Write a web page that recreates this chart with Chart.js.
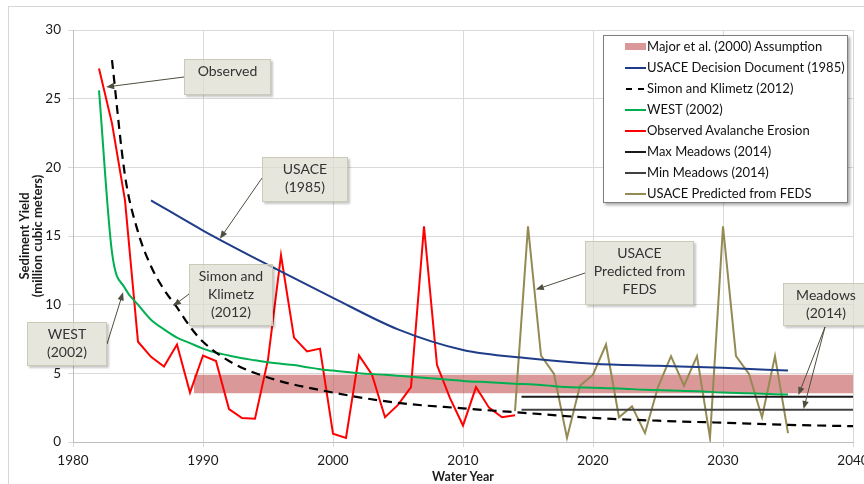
<!DOCTYPE html>
<html>
<head>
<meta charset="utf-8">
<script src="https://cdn.jsdelivr.net/npm/chart.js@4"></script>
<style>
  body { margin: 0; background: #fff; overflow: hidden; }
  #wrap { position: relative; width: 864px; height: 484px; overflow: hidden; font-family: Lato, "Noto Sans", sans-serif; }
  #myChart { position: absolute; left: 0; top: 0; }
  .callout {
    position: absolute; box-sizing: border-box;
    background: rgba(222, 220, 206, 0.72); border: 1px solid #cbc9b8;
    box-shadow: 2px 2px 2px rgba(0, 0, 0, 0.22);
    color: #333; font-size: 14px; line-height: 18px; text-align: center;
    padding-top: 2px;
  }
  #legend {
    position: absolute; left: 603px; top: 35px; width: 245px; height: 168px; box-sizing: border-box;
    background: #fff; border: 1px solid #7f7f7f; box-shadow: 2px 2px 3px rgba(0, 0, 0, 0.35);
    font-size: 13px; color: #111; padding-top: 0;
  }
  .row { position: relative; height: 21px; line-height: 21px; padding-left: 43px; white-space: nowrap; }
  .sample { position: absolute; left: 21px; width: 21px; }
</style>
</head>
<body>
<div id="wrap">
  <canvas id="myChart" width="864" height="484"></canvas>
  <div id="legend"></div>
</div>
<script>
// Major et al. (2000) band
var majorYears = [1989.3, 2040];
var majorHigh = [4.9, 4.9];
var majorLow = 3.55;

var usaceYears = [1986, 1990, 1995, 2000, 2005, 2010, 2015, 2020, 2025, 2030, 2035];
var usaceValues = [17.6, 15.4, 12.9, 10.5, 8.2, 6.7, 6.1, 5.7, 5.55, 5.4, 5.2];

var simonYears = [1983, 1984, 1985, 1986, 1987, 1988, 1989, 1990, 1992, 1995, 2000, 2005, 2010, 2015, 2020, 2025, 2030, 2035, 2040];
var simonValues = [27.8, 19.4, 15.3, 12.8, 11.1, 9.8, 8.4, 7.3, 5.9, 4.7, 3.6, 2.85, 2.45, 2.1, 1.75, 1.55, 1.4, 1.25, 1.15];

var westYears = [1982, 1983, 1984, 1985, 1986, 1987, 1988, 1989, 1990, 1991, 1992, 1993, 1994, 1995, 1996, 1997, 1998, 1999,
  2000, 2002, 2004, 2006, 2008, 2010, 2012, 2014, 2016, 2018, 2020, 2022, 2024, 2026, 2028, 2030, 2032, 2035];
var westValues = [25.6, 13.8, 11.2, 10.0, 8.9, 8.2, 7.6, 7.2, 6.8, 6.5, 6.3, 6.1, 5.95, 5.8, 5.7, 5.6, 5.45, 5.3,
  5.2, 5.0, 4.9, 4.75, 4.6, 4.45, 4.35, 4.25, 4.15, 4.0, 3.95, 3.9, 3.8, 3.75, 3.7, 3.6, 3.55, 3.45];

var observedYears = [1982, 1983, 1984, 1985, 1986, 1987, 1988, 1989, 1990, 1991, 1992, 1993, 1994, 1995, 1996, 1997, 1998,
  1999, 2000, 2001, 2002, 2003, 2004, 2005, 2006, 2007, 2008, 2009, 2010, 2011, 2012, 2013, 2014];
var observedValues = [27.2, 23.2, 17.6, 7.3, 6.2, 5.5, 7.1, 3.6, 6.3, 5.9, 2.4, 1.75, 1.7, 6.0, 13.6, 7.6, 6.6,
  6.8, 0.6, 0.3, 6.3, 4.9, 1.8, 2.7, 4.0, 15.7, 5.6, 3.2, 1.2, 4.0, 2.5, 1.8, 1.95];

var meadowsYears = [2014.5, 2040];
var maxMeadows = [3.3, 3.3];
var minMeadows = [2.35, 2.35];

var fedsYears = [2014, 2015, 2016, 2017, 2018, 2019, 2020, 2021, 2022, 2023, 2024, 2025, 2026, 2027, 2028, 2029, 2030,
  2031, 2032, 2033, 2034, 2035];
var fedsValues = [2.25, 15.7, 6.3, 4.95, 0.3, 4.1, 4.9, 7.1, 1.8, 2.6, 0.65, 4.0, 6.25, 4.1, 6.25, 0.3, 15.7,
  6.25, 4.95, 1.8, 6.25, 0.65];

var xTicks = [1980, 1990, 2000, 2010, 2020, 2030, 2040];
var yTicks = [0, 5, 10, 15, 20, 25, 30];

// callout boxes: text, tips in data units
var callouts = [
  { lines: ['Observed'], box: [184, 59, 87, 36], tail: [[184, 77]], tips: [[1982.55, 25.85]] },
  { lines: ['USACE', '(1985)'], box: [262, 157, 86, 45], tail: [[262, 178]], tips: [[1991.3, 14.8]] },
  { lines: ['Simon and', 'Klimetz', '(2012)'], box: [189, 264, 84, 62], tail: [[189, 294]], tips: [[1987.7, 9.9]] },
  { lines: ['WEST', '(2002)'], box: [27, 322, 80, 44], tail: [[107, 344]], tips: [[1983.85, 10.9]] },
  { lines: ['USACE', 'Predicted from', 'FEDS'], box: [585, 241, 109, 64], tail: [[585, 273]], tips: [[2015.6, 11.1]] },
  { lines: ['Meadows', '(2014)'], box: [783, 283, 86, 43], tail: [[825, 327], [825, 327]], tips: [[2035.8, 3.42], [2036.2, 2.4]] }
];

function pts(xs, ys) {
  return xs.map(function (x, i) { return { x: x, y: ys[i] }; });
}

var wrap = document.getElementById('wrap');
callouts.forEach(function (c) {
  var d = document.createElement('div');
  d.className = 'callout';
  d.style.left = c.box[0] + 'px';
  d.style.top = c.box[1] + 'px';
  d.style.width = c.box[2] + 'px';
  d.style.height = c.box[3] + 'px';
  d.innerHTML = c.lines.join('<br>');
  wrap.appendChild(d);
});

var framePlugin = {
  id: 'frame',
  beforeDraw: function (chart) {
    var c = chart.ctx;
    c.save();
    c.fillStyle = '#fff';
    c.fillRect(0, 0, chart.width, chart.height);
    c.strokeStyle = '#d6d6d6';
    c.lineWidth = 1;
    c.strokeRect(8.5, 6.5, 900, 600);
    c.restore();
  }
};

var arrowPlugin = {
  id: 'arrows',
  afterDraw: function (chart) {
    var c = chart.ctx;
    var xs = chart.scales.x, ys = chart.scales.y;
    c.save();
    c.strokeStyle = '#4f4e40';
    c.fillStyle = '#4f4e40';
    c.lineWidth = 1;
    callouts.forEach(function (co) {
      co.tips.forEach(function (tip, i) {
        var t = co.tail[i];
        var tx = xs.getPixelForValue(tip[0]), ty = ys.getPixelForValue(tip[1]);
        var a = Math.atan2(ty - t[1], tx - t[0]);
        c.beginPath();
        c.moveTo(t[0], t[1]);
        c.lineTo(tx - 5 * Math.cos(a), ty - 5 * Math.sin(a));
        c.stroke();
        c.beginPath();
        c.moveTo(tx, ty);
        c.lineTo(tx - 8 * Math.cos(a) + 3.2 * Math.sin(a), ty - 8 * Math.sin(a) - 3.2 * Math.cos(a));
        c.lineTo(tx - 8 * Math.cos(a) - 3.2 * Math.sin(a), ty - 8 * Math.sin(a) + 3.2 * Math.cos(a));
        c.closePath();
        c.fill();
      });
    });
    c.restore();
  }
};

var ctx = document.getElementById('myChart').getContext('2d');
var myChart = new Chart(ctx, {
  type: 'line',
  data: {
    datasets: [{
      label: 'Major et al. (2000) Assumption',
      data: pts(majorYears, majorHigh),
      borderWidth: 0,
      borderColor: 'rgba(192, 80, 77, 0.58)',
      backgroundColor: 'rgba(192, 80, 77, 0.58)',
      fill: { value: majorLow },
      order: 10
    }, {
      label: 'USACE Decision Document (1985)',
      data: pts(usaceYears, usaceValues),
      borderColor: '#1f3c88',
      borderWidth: 2,
      cubicInterpolationMode: 'monotone'
    }, {
      label: 'Simon and Klimetz (2012)',
      data: pts(simonYears, simonValues),
      borderColor: '#000',
      borderWidth: 2.2,
      borderDash: [9, 6],
      cubicInterpolationMode: 'monotone'
    }, {
      label: 'WEST (2002)',
      data: pts(westYears, westValues),
      borderColor: '#00b050',
      borderWidth: 2,
      cubicInterpolationMode: 'monotone'
    }, {
      label: 'Observed Avalanche Erosion',
      data: pts(observedYears, observedValues),
      borderColor: '#ff0000',
      borderWidth: 2
    }, {
      label: 'Max Meadows (2014)',
      data: pts(meadowsYears, maxMeadows),
      borderColor: '#1a1a1a',
      borderWidth: 2
    }, {
      label: 'Min Meadows (2014)',
      data: pts(meadowsYears, minMeadows),
      borderColor: '#404040',
      borderWidth: 2
    }, {
      label: 'USACE Predicted from FEDS',
      data: pts(fedsYears, fedsValues),
      borderColor: '#948a54',
      borderWidth: 2
    }]
  },
  options: {
    responsive: false,
    animation: false,
    devicePixelRatio: 1,
    layout: { padding: { left: 0, top: 30, right: 11, bottom: 0 } },
    elements: { point: { radius: 0, hoverRadius: 0 }, line: { tension: 0 } },
    plugins: { legend: { display: false }, tooltip: { enabled: false } },
    scales: {
      x: {
        type: 'linear',
        min: xTicks[0],
        max: xTicks[xTicks.length - 1],
        afterBuildTicks: function (s) { s.ticks = xTicks.map(function (v) { return { value: v }; }); },
        ticks: {
          callback: function (v) { return String(v); },
          color: '#1a1a1a',
          font: { family: 'Lato', size: 13.5 },
          padding: 6,
          maxRotation: 0
        },
        grid: { color: '#d9d9d9', tickLength: 5 },
        border: { color: '#bfbfbf' },
        title: {
          display: true,
          text: 'Water Year',
          color: '#1a1a1a',
          font: { family: 'Lato', size: 12.5, weight: 'bold' },
          padding: { top: 0, bottom: 0 }
        },
        afterFit: function (s) { s.height = 42; s.paddingLeft = 0; s.paddingRight = 0; }
      },
      y: {
        min: yTicks[0],
        max: yTicks[yTicks.length - 1],
        afterBuildTicks: function (s) { s.ticks = yTicks.map(function (v) { return { value: v }; }); },
        ticks: {
          color: '#1a1a1a',
          font: { family: 'Lato', size: 13.5 },
          padding: 7
        },
        grid: { color: '#d9d9d9', tickLength: 5 },
        border: { color: '#bfbfbf' },
        title: {
          display: true,
          text: ['Sediment Yield', '(million cubic meters)'],
          color: '#1a1a1a',
          font: { family: 'Lato', size: 13, weight: 'bold', lineHeight: 1.0 },
          padding: { top: 18, bottom: 0 }
        },
        afterFit: function (s) { s.width = 73; s.paddingTop = 0; s.paddingBottom = 0; }
      }
    }
  },
  plugins: [framePlugin, arrowPlugin]
});

// legend box built from the datasets
var legend = document.getElementById('legend');
myChart.data.datasets.forEach(function (ds, i) {
  var row = document.createElement('div');
  row.className = 'row';
  var s = document.createElement('span');
  s.className = 'sample';
  if (i === 0) {
    s.style.top = '7px';
    s.style.height = '7px';
    s.style.background = ds.backgroundColor;
  } else if (ds.borderDash) {
    s.style.top = '10px';
    s.style.height = '0';
    s.style.borderTop = '2px dashed ' + ds.borderColor;
    s.style.width = '18px';
    s.style.left = '22px';
  } else {
    s.style.top = '10px';
    s.style.height = '2px';
    s.style.background = ds.borderColor;
  }
  row.appendChild(s);
  row.appendChild(document.createTextNode(ds.label));
  legend.appendChild(row);
});
</script>
</body>
</html>
